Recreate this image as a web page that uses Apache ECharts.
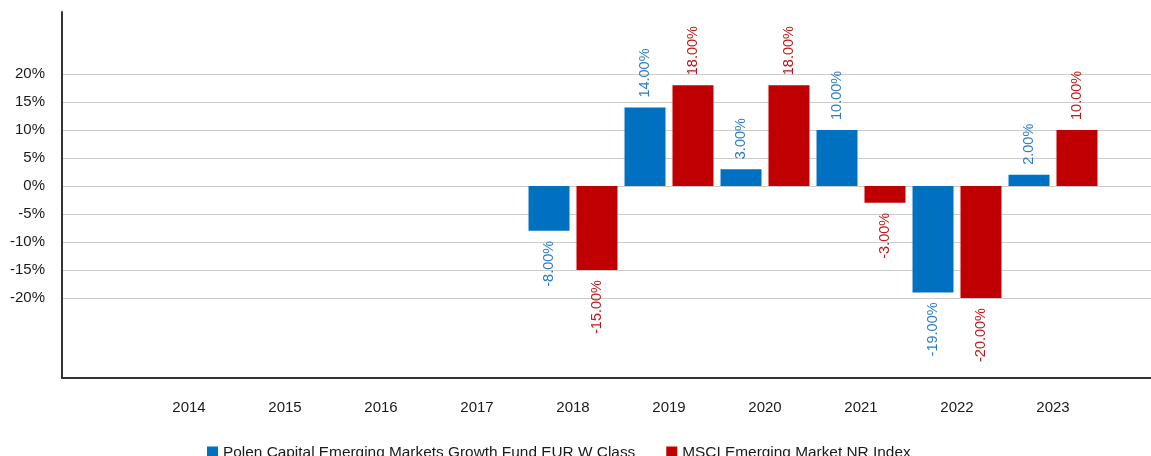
<!DOCTYPE html>
<html>
<head>
<meta charset="utf-8">
<script src="https://cdn.jsdelivr.net/npm/echarts@6/dist/echarts.min.js"></script>
<style>
html,body{margin:0;padding:0;background:#fff;}
#chart{width:1151px;height:456px;}
</style>
</head>
<body>
<div id="chart"></div>
<script>
const years = ['2014','2015','2016','2017','2018','2019','2020','2021','2022','2023'];
const fundName = 'Polen Capital Emerging Markets Growth Fund EUR W Class';
const indexName = 'MSCI Emerging Market NR Index';
const fundValues = [null, null, null, null, -8, 14, 3, 10, -19, 2];
const indexValues = [null, null, null, null, -15, 18, 18, -3, -20, 10];
const yTicks = { min: -20, max: 20, step: 5 };

const fundColor = '#0070C0';
const indexColor = '#C00000';
const fundLabelColor = '#2a7cc8';
const indexLabelColor = '#c01818';
const font = 'Liberation Sans, Arial, sans-serif';

function toItems(values, labelColor) {
  return values.map(v => {
    if (v === null) return { value: null };
    const neg = v < 0;
    return {
      value: v,
      label: {
        show: true,
        position: neg ? 'bottom' : 'top',
        rotate: 90,
        align: neg ? 'right' : 'left',
        verticalAlign: 'middle',
        distance: 10,
        color: labelColor,
        fontFamily: font,
        fontSize: 14.5,
        formatter: p => p.value.toFixed(2) + '%'
      }
    };
  });
}

const chart = echarts.init(document.getElementById('chart'), null, { renderer: 'canvas' });
chart.setOption({
  animation: false,
  backgroundColor: '#fff',
  grid: [
    { left: 62, right: 0, top: 74, bottom: 158 },
    { left: 62, right: 0, top: 12, bottom: 78 },
    { left: 141, right: 50, top: 74, bottom: 158 }
  ],
  legend: {
    left: 202,
    top: 440,
    icon: 'rect',
    itemWidth: 11,
    itemHeight: 12,
    itemGap: 31,
    textStyle: { fontFamily: font, fontSize: 15.4, color: '#1a1a1a' },
    data: [fundName, indexName]
  },
  xAxis: [
    { gridIndex: 0, type: 'category', data: years, show: false },
    { gridIndex: 1, type: 'category', data: years, axisLine: { show: true, lineStyle: { color: '#333', width: 2 } }, axisTick: { show: false }, axisLabel: { show: false } },
    { gridIndex: 2, type: 'category', data: years, offset: 80,
      axisLine: { show: false }, axisTick: { show: false },
      axisLabel: { margin: 22, fontFamily: font, fontSize: 15, color: '#1a1a1a' } }
  ],
  yAxis: [
    { gridIndex: 0, type: 'value', min: yTicks.min, max: yTicks.max, interval: yTicks.step,
      axisLine: { show: false }, axisTick: { show: false },
      axisLabel: { margin: 17, fontFamily: font, fontSize: 15, color: '#1a1a1a', formatter: v => v + '%' },
      splitLine: { show: true, lineStyle: { color: '#cccccc', width: 1 } } },
    { gridIndex: 1, type: 'value', min: 0, max: 1,
      axisLine: { show: true, lineStyle: { color: '#333', width: 2 } }, axisTick: { show: false },
      axisLabel: { show: false }, splitLine: { show: false } },
    { gridIndex: 2, type: 'value', min: yTicks.min, max: yTicks.max, show: false, splitLine: { show: false } }
  ],
  series: [
    { name: fundName, type: 'bar', xAxisIndex: 2, yAxisIndex: 2, barWidth: 41, barGap: '17%',
      itemStyle: { color: fundColor }, data: toItems(fundValues, fundLabelColor) },
    { name: indexName, type: 'bar', xAxisIndex: 2, yAxisIndex: 2, barWidth: 41, barGap: '17%',
      itemStyle: { color: indexColor }, data: toItems(indexValues, indexLabelColor) }
  ]
});
</script>
</body>
</html>
